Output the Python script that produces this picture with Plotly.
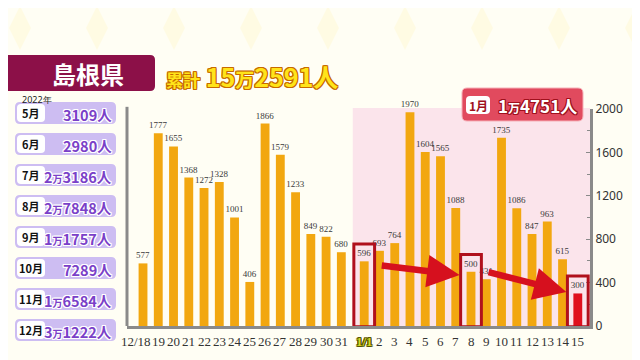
import plotly.graph_objects as go

# ---------------- data ----------------
dec_days = ["12/18", "19", "20", "21", "22", "23", "24", "25", "26", "27", "28", "29", "30", "31"]
dec_values = [577, 1777, 1655, 1368, 1272, 1328, 1001, 406, 1866, 1579, 1233, 849, 822, 680]
jan_days = ["1/1", "2", "3", "4", "5", "6", "7", "8", "9", "10", "11", "12", "13", "14", "15"]
jan_values = [596, 693, 764, 1970, 1604, 1565, 1088, 500, 431, 1735, 1086, 847, 963, 615, 300]

month_labels = ["5月", "6月", "7月", "8月", "9月", "10月", "11月", "12月"]
month_totals = ["3109人", "2980人", "2万3186人", "2万7848人", "1万1757人", "7289人", "1万6584人", "3万1222人"]

prefecture = "島根県"
cumulative = "15万2591人"
jan_total = "1万4751人"
y_ticks = [0, 400, 800, 1200, 1600, 2000]

# ---------------- geometry ----------------
# the page body adds an 8px offset, so the figure is 632x352 and placed at (8, 8)
OFF = 8
W, H = 640 - OFF, 360 - OFF
PX0, PX1, PY0, PY1 = 127, 590, 109, 326   # plot area in screen pixels
L, R, T, B = PX0 - OFF, W - (PX1 - OFF), PY0 - OFF, H - (PY1 - OFF)
PW, PH = PX1 - PX0, PY1 - PY0


def fx(px):
    return (px - PX0) / PW


def fy(py):
    return (PY1 - py) / PH


def rrect(x0, y0, x1, y1, r):
    pts = [
        f"M {fx(x0 + r)},{fy(y0)}",
        f"L {fx(x1 - r)},{fy(y0)}",
        f"Q {fx(x1)},{fy(y0)} {fx(x1)},{fy(y0 + r)}",
        f"L {fx(x1)},{fy(y1 - r)}",
        f"Q {fx(x1)},{fy(y1)} {fx(x1 - r)},{fy(y1)}",
        f"L {fx(x0 + r)},{fy(y1)}",
        f"Q {fx(x0)},{fy(y1)} {fx(x0)},{fy(y1 - r)}",
        f"L {fx(x0)},{fy(y0 + r)}",
        f"Q {fx(x0)},{fy(y0)} {fx(x0 + r)},{fy(y0)}",
        "Z",
    ]
    return " ".join(pts)


def outline(color, w=1):
    s = []
    for dx in (-w, 0, w):
        for dy in (-w, 0, w):
            if dx or dy:
                s.append(f"{dx}px {dy}px 0 {color}")
    return ", ".join(s)


# x positions: December then a small gap before January
dec_x = list(range(len(dec_days)))
jan_x = [len(dec_days) + 0.5 + i for i in range(len(jan_days))]
all_x = dec_x + jan_x
all_vals = dec_values + jan_values
all_days = dec_days + jan_days

bar_colors = ["#F2A710"] * len(all_vals)
bar_colors[-1] = "#E0101E"

narrow = "Liberation Sans Narrow"

fig = go.Figure()
fig.add_trace(go.Bar(
    x=all_x, y=all_vals, width=0.58,
    marker=dict(color=bar_colors, line=dict(width=0)),
    text=[str(v) for v in all_vals], textposition="outside", constraintext="none",
    textfont=dict(size=9, color="#3A3A3A", family=narrow),
    cliponaxis=False, showlegend=False,
))

shapes = []
annots = []

# faint diamond pattern in the background
for k in range(9):
    cx = 20 + k * 77
    cy = 28
    shapes.append(dict(type="path", xref="paper", yref="paper", layer="below",
                       path=f"M {fx(cx)},{fy(cy - 22)} L {fx(cx + 11)},{fy(cy)} L {fx(cx)},{fy(cy + 22)} L {fx(cx - 11)},{fy(cy)} Z",
                       fillcolor="#FFFBE3", line=dict(width=0)))

# pink January background
shapes.append(dict(type="rect", xref="x", yref="paper", x0=(dec_x[-1] + jan_x[0]) / 2, x1=29.3,
                   y0=0, y1=1.005, fillcolor="#FBE4EB", line=dict(width=0), layer="below"))
# left axis line
shapes.append(dict(type="line", xref="paper", yref="paper", x0=0, x1=0, y0=0, y1=1.01,
                   line=dict(color="#8A8A8A", width=3)))

# red highlight boxes around 1/1, 8, 15
for day in ["1/1", "8", "15"]:
    i = jan_days.index(day)
    xc = jan_x[i]
    top = jan_values[i] + 160
    shapes.append(dict(type="rect", xref="x", yref="y", x0=xc - 0.68, x1=xc + 0.68, y0=-8, y1=top,
                       line=dict(color="#B0101C", width=3), fillcolor="rgba(0,0,0,0)"))


# arrows
def arrow(x_from, y_from, x_to, y_to):
    annots.append(dict(x=x_to, y=y_to, ax=x_from, ay=y_from, xref="x", yref="y", axref="x", ayref="y",
                       showarrow=True, arrowhead=2, arrowsize=1.0, arrowwidth=6.5, arrowcolor="#D6101E",
                       text=""))


i1, i8, i15 = jan_days.index("1/1"), jan_days.index("8"), jan_days.index("15")
arrow(jan_x[i1] + 1.05, 560, jan_x[i8] - 0.75, 470)
arrow(jan_x[i8] + 1.05, 500, jan_x[i15] - 0.75, 313)

# x tick labels as annotations (to control placement)
for xv, d in zip(all_x, all_days):
    if d == "1/1":
        annots.append(dict(xref="x", yref="paper", x=xv, y=fy(341), text=d, showarrow=False,
                           xanchor="center", yanchor="middle",
                           font=dict(size=13, color="#D8D820", family=narrow, weight="bold",
                                     shadow=outline("#555500", 1))))
    elif d == "12/18":
        annots.append(dict(xref="x", yref="paper", x=xv - 0.45, y=fy(341), text=d, showarrow=False,
                           xanchor="center", yanchor="middle",
                           font=dict(size=13, color="#333333", family=narrow)))
    else:
        annots.append(dict(xref="x", yref="paper", x=xv, y=fy(341), text=d, showarrow=False,
                           xanchor="center", yanchor="middle",
                           font=dict(size=13, color="#333333", family=narrow)))

# ---------- title block ----------
shapes.append(dict(type="path", xref="paper", yref="paper", path=rrect(-6, 55, 155, 91, 5),
                   fillcolor="#8C1048", line=dict(width=0)))
annots.append(dict(xref="paper", yref="paper", x=fx(88), y=fy(73), text=prefecture, showarrow=False,
                   font=dict(size=24, color="white", family="Noto Sans CJK JP", weight="bold"),
                   xanchor="center", yanchor="middle"))
annots.append(dict(xref="paper", yref="paper", x=fx(164), y=fy(76),
                   text='<span style="font-size:17px">累計</span> ' + cumulative.replace("万", '<span style="font-size:19px">万</span>'),
                   showarrow=False, xanchor="left", yanchor="middle",
                   font=dict(size=25, color="#FFE41A", family="Noto Sans CJK JP", weight="bold",
                             shadow=outline("#C76A00", 1))))

# ---------- left monthly panel ----------
annots.append(dict(xref="paper", yref="paper", x=fx(20), y=fy(99), text="2022年", showarrow=False,
                   xanchor="left", yanchor="middle", font=dict(size=9, color="#222222", family="Noto Sans")))
for k, (m, v) in enumerate(zip(month_labels, month_totals)):
    yc = 113 + k * 31
    shapes.append(dict(type="path", xref="paper", yref="paper", path=rrect(15, yc - 11, 116, yc + 11, 5),
                       fillcolor="#CDBDF2", line=dict(width=0)))
    shapes.append(dict(type="path", xref="paper", yref="paper", path=rrect(17, yc - 9, 45, yc + 9, 4),
                       fillcolor="white", line=dict(width=0)))
    annots.append(dict(xref="paper", yref="paper", x=fx(31), y=fy(yc), text=m, showarrow=False,
                       xanchor="center", yanchor="middle",
                       font=dict(size=11, color="#111111", family="Noto Sans CJK JP", weight="bold")))
    annots.append(dict(xref="paper", yref="paper", x=fx(114), y=fy(yc + 1),
                       text=v.replace("万", '<span style="font-size:10px">万</span>'), showarrow=False,
                       xanchor="right", yanchor="middle",
                       font=dict(size=14.5, color="#7A40C8", family="Noto Sans CJK JP", weight="bold",
                                 shadow=outline("white", 1))))

# ---------- January badge ----------
shapes.append(dict(type="path", xref="paper", yref="paper", path=rrect(462, 88, 583, 121, 5),
                   fillcolor="#E14A5E", line=dict(color="#F6B0B8", width=1)))
shapes.append(dict(type="path", xref="paper", yref="paper", path=rrect(466, 96, 490, 114, 4),
                   fillcolor="white", line=dict(width=0)))
annots.append(dict(xref="paper", yref="paper", x=fx(478), y=fy(105), text="1月", showarrow=False,
                   xanchor="center", yanchor="middle",
                   font=dict(size=12, color="#A0101C", family="Noto Sans CJK JP", weight="bold")))
annots.append(dict(xref="paper", yref="paper", x=fx(579), y=fy(105.5),
                   text=jan_total.replace("万", '<span style="font-size:12px">万</span>'), showarrow=False,
                   xanchor="right", yanchor="middle",
                   font=dict(size=17, color="white", family="Noto Sans CJK JP", weight="bold",
                             shadow=outline("#A0101C", 1))))

fig.update_layout(
    width=W, height=H, autosize=False,
    margin=dict(l=L, r=R, t=T, b=B),
    paper_bgcolor="#FFFEF4", plot_bgcolor="rgba(0,0,0,0)",
    shapes=shapes, annotations=annots,
    xaxis=dict(range=[-1.05, 29.3], tickvals=all_x, showticklabels=False, showgrid=False, zeroline=False,
               showline=True, linecolor="#8A8A8A", linewidth=3, ticks=""),
    yaxis=dict(range=[0, 2000], side="right", tickvals=y_ticks, showgrid=False, zeroline=False,
               showline=True, linecolor="#8A8A8A", linewidth=3, ticks="inside", ticklen=4,
               tickcolor="#8A8A8A", minor=dict(dtick=200, ticks="inside", ticklen=3, tickcolor="#8A8A8A"),
               tickfont=dict(size=12, color="#333333", family="Noto Sans")),
)

fig.write_html("out.html")
